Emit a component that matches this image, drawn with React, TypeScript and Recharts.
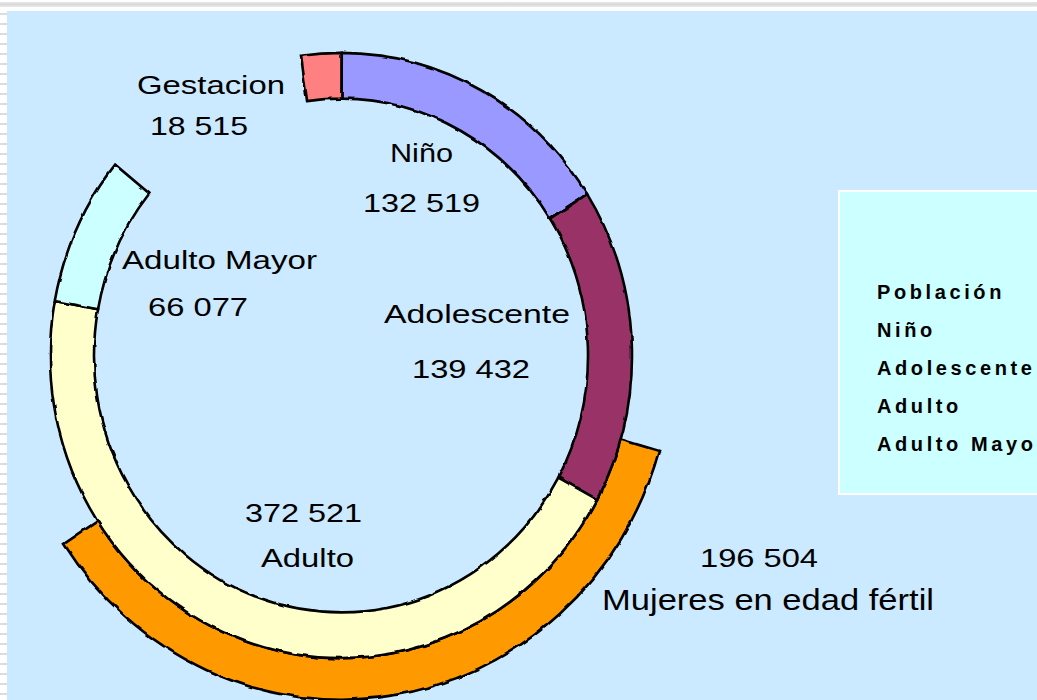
import React from 'react';
import { PieChart, Pie, Cell } from 'recharts';

// datos
const categorias = ['Gestacion', 'Niño', 'Adolescente', 'Adulto', 'Adulto Mayor'];
const poblacion = [18515, 132519, 139432, 372521, 66077];
const mujeresLabel = 'Mujeres en edad fértil';
const mujeresValor = 196504;
const leyendaTitulo = 'Población';
const leyendaItems = ['Niño', 'Adolescente', 'Adulto', 'Adulto Mayor'];

const colores = ['#ff8080', '#9999ff', '#993366', '#ffffcc', '#ccffff'];

// layout of the hand placed labels: [x, baseline, width] for name and value lines
const labelPos: { name: [number, number, number]; value: [number, number, number] }[] = [
  { name: [137, 94, 148], value: [150, 135, 98] },
  { name: [390, 162, 63], value: [363, 212, 117] },
  { name: [384, 323, 186], value: [412, 378, 118] },
  { name: [261, 567, 93], value: [245, 522, 117] },
  { name: [122, 269, 195], value: [148, 316, 100] }
];

const fmt = (n: number) => n.toString().replace(/\B(?=(\d{3})+(?!\d))/g, ' ');

const W = 1037;
const H = 700;
const CX = 341;
const CY = 355.5;

const ringData = categorias.map((c, i) => ({ name: c, value: poblacion[i] }));
const mujeresData = [{ name: mujeresLabel, value: mujeresValor }];

const labelStyle: React.CSSProperties = {
  fontFamily: '"Liberation Sans", Arial, sans-serif',
  fontSize: 26
};

const Label = ({ pos, text, size = 26 }: { pos: [number, number, number]; text: string; size?: number }) => (
  <text
    x={pos[0]}
    y={pos[1]}
    textLength={pos[2]}
    lengthAdjust="spacingAndGlyphs"
    style={{ ...labelStyle, fontSize: size }}
    fill="#000"
  >
    {text}
  </text>
);

const App: React.FC = () => {
  return (
    <div
      style={{
        position: 'absolute',
        left: 0,
        top: 0,
        width: W,
        height: H,
        overflow: 'hidden',
        background: '#fff'
      }}
    >
      {/* slide frame stripes */}
      <div
        style={{
          position: 'absolute',
          left: 0,
          top: 2,
          width: W,
          height: 5,
          background: 'linear-gradient(#e6e6e6, #d9d9d9, #ececec)'
        }}
      />
      <div
        style={{
          position: 'absolute',
          left: 0,
          top: 11,
          width: 7,
          height: H,
          background: 'repeating-linear-gradient(#fff 0px, #fff 2px, #dcdcdc 2px, #dcdcdc 4px, #fff 4px, #fff 10px)'
        }}
      />
      <div
        style={{
          position: 'absolute',
          left: 7,
          top: 11,
          width: W,
          height: H,
          background: '#cceaff'
        }}
      />

      <svg width={0} height={0} style={{ position: 'absolute' }}>
        <defs>
          <filter id="wobble" x="-5%" y="-5%" width="110%" height="110%">
            <feTurbulence type="fractalNoise" baseFrequency="0.09" numOctaves={1} seed={3} result="n" />
            <feDisplacementMap in="SourceGraphic" in2="n" scale={3.5} xChannelSelector="R" yChannelSelector="G" />
          </filter>
        </defs>
      </svg>

      <div
        style={{
          position: 'absolute',
          left: 0,
          top: 0,
          transform: 'scaleY(1.04)',
          transformOrigin: `${CX}px ${CY}px`,
          filter: 'url(#wobble)'
        }}
      >
        <PieChart width={W} height={H} margin={{ top: 0, right: 0, bottom: 0, left: 0 }}>
          <Pie
            data={mujeresData}
            dataKey="value"
            cx={CX}
            cy={CY}
            startAngle={-16.1}
            endAngle={-146.8}
            innerRadius={291}
            outerRadius={331}
            stroke="#000"
            strokeWidth={2.6}
            isAnimationActive={false}
          >
            <Cell fill="#ff9900" />
          </Pie>
          <Pie
            data={ringData}
            dataKey="value"
            cx={CX}
            cy={CY}
            startAngle={97.9}
            endAngle={-219.1}
            innerRadius={247}
            outerRadius={291}
            stroke="#000"
            strokeWidth={2.6}
            isAnimationActive={false}
          >
            {ringData.map((d, i) => (
              <Cell key={d.name} fill={colores[i]} />
            ))}
          </Pie>
        </PieChart>
      </div>

      <svg
        width={W}
        height={H}
        style={{ position: 'absolute', left: 0, top: 0, pointerEvents: 'none' }}
      >
        {categorias.map((c, i) => (
          <g key={c}>
            <Label pos={labelPos[i].name} text={c} />
            <Label pos={labelPos[i].value} text={fmt(poblacion[i])} />
          </g>
        ))}
        <Label pos={[700, 567, 118]} text={fmt(mujeresValor)} />
        <Label pos={[602, 610, 332]} text={mujeresLabel} size={30} />
      </svg>

      {/* legend box */}
      <div
        style={{
          position: 'absolute',
          left: 838,
          top: 190,
          width: 220,
          height: 301,
          background: '#ccffff',
          border: '2px solid #fff'
        }}
      >
        <svg width={220} height={301}>
          {[leyendaTitulo, ...leyendaItems].map((t, i) => (
            <text
              key={t}
              x={37}
              y={107 + i * 38}
              style={{
                fontFamily: '"Liberation Sans", Arial, sans-serif',
                fontWeight: 'bold',
                fontSize: 20,
                letterSpacing: 3.6
              }}
            >
              {t}
            </text>
          ))}
        </svg>
      </div>
    </div>
  );
};

export default App;
